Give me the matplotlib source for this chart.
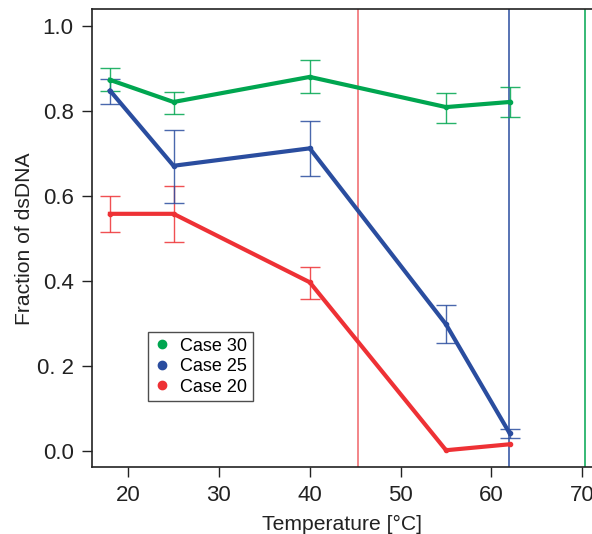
import matplotlib
matplotlib.use("Agg")
import matplotlib.pyplot as plt

plt.rcParams["font.family"] = ["Liberation Sans", "DejaVu Sans"]

temps = [18, 25, 40, 55, 62]

case30 = [0.873, 0.821, 0.880, 0.809, 0.821]
case30_lo = [0.848, 0.793, 0.842, 0.772, 0.785]
case30_hi = [0.902, 0.845, 0.920, 0.843, 0.856]

case25 = [0.848, 0.671, 0.712, 0.298, 0.042]
case25_lo = [0.817, 0.584, 0.648, 0.254, 0.031]
case25_hi = [0.875, 0.754, 0.777, 0.343, 0.052]

case20 = [0.558, 0.558, 0.397, 0.002, 0.016]
case20_lo = [0.515, 0.492, 0.358, None, None]
case20_hi = [0.600, 0.624, 0.434, None, None]

melt_temps = {"Case 20": 45.3, "Case 25": 61.9, "Case 30": 70.3}

yticks = [0.0, 0.2, 0.4, 0.6, 0.8, 1.0]
ytick_labels = ["0.0", "0. 2", "0.4", "0.6", "0.8", "1.0"]
xticks = [20, 30, 40, 50, 60, 70]

GREEN = "#00a650"
BLUE = "#2a4d9f"
RED = "#ee3135"

series = [
    ("Case 30", case30, case30_lo, case30_hi, GREEN),
    ("Case 25", case25, case25_lo, case25_hi, BLUE),
    ("Case 20", case20, case20_lo, case20_hi, RED),
]

fig = plt.figure(figsize=(5.92, 5.34), dpi=100)
ax = fig.add_axes([0.155, 0.125, 0.845, 0.8576])

for name, t in melt_temps.items():
    col = {"Case 20": "#f06468", "Case 25": BLUE, "Case 30": GREEN}[name]
    ax.axvline(t, color=col, lw=1.1, zorder=1)

handles = []
for name, y, lo, hi, col in reversed(series):
    ax.plot(temps, y, color=col, lw=3, zorder=3)
    ax.plot(temps, y, "o", color=col, ms=3, zorder=4)
    xs, ys, el, eh = [], [], [], []
    for t, v, l, h in zip(temps, y, lo, hi):
        if l is None:
            continue
        xs.append(t); ys.append(v); el.append(v - l); eh.append(h - v)
    ax.errorbar(xs, ys, yerr=[el, eh], fmt="none", ecolor=col, elinewidth=1,
                capsize=7, capthick=1, alpha=0.85, zorder=2)

for name, y, lo, hi, col in series:
    handles.append(ax.plot([], [], "o", color=col, ms=6, label=name)[0])

leg = ax.legend(handles=handles, loc="upper left", bbox_to_anchor=(0.112, 0.295),
                frameon=True, fancybox=False, edgecolor="#222222",
                fontsize=13, handlelength=1.0, handletextpad=0.5,
                borderpad=0.3, labelspacing=0.2, borderaxespad=0)
leg.get_frame().set_linewidth(1.0)

ax.set_xlim(16, 71.07)
ax.set_ylim(-0.038, 1.039)
ax.set_xticks(xticks)
ax.set_yticks(yticks)
ax.set_yticklabels(ytick_labels)
ax.tick_params(direction="out", length=7, width=1, labelsize=16,
               colors="#222222", pad=6)
ax.spines["right"].set_visible(False)
for s in ("left", "bottom", "top"):
    ax.spines[s].set_color("#222222")
    ax.spines[s].set_linewidth(1.2)

ax.set_xlabel("Temperature [°C]", fontsize=15.2, color="#222222", labelpad=6)
ax.set_ylabel("Fraction of dsDNA", fontsize=15.2, color="#222222", labelpad=2)

fig.savefig("out.png", dpi=100)
